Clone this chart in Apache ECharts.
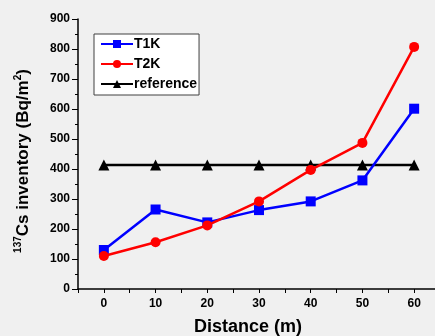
<!DOCTYPE html>
<html>
  <head>
    <meta charset="UTF-8" />
    <title>137Cs inventory</title>
    <style>
      * { padding: 0; margin: 0; }
      body { background: #f0f0f0; }
    </style>
    <script src="https://cdn.jsdelivr.net/npm/echarts@6/dist/echarts.min.js"></script>
  </head>
  <body>
    <div id="main" style="width: 435px; height: 336px;"></div>
    <script type="text/javascript">
      var distance = [0, 10, 20, 30, 40, 50, 60];
      var t1k = [130, 265, 222, 263, 292, 362, 601];
      var t2k = [110, 156, 212, 292, 397, 487, 807];
      var reference = [413, 413, 413, 413, 413, 413, 413];

      var font = 'Arial, "Liberation Sans", sans-serif';
      var pairs = function (vals) {
        return distance.map(function (d, i) { return [d, vals[i]]; });
      };

      var myChart = echarts.init(document.getElementById('main'));

      var option = {
        backgroundColor: '#f0f0f0',
        animation: false,
        textStyle: { fontFamily: font },
        grid: { left: 78, top: 19, bottom: 47, right: -5, outerBoundsMode: 'none', containLabel: false },
        legend: {
          orient: 'vertical',
          left: 94,
          top: 34,
          backgroundColor: '#ffffff',
          borderColor: '#404040',
          borderWidth: 1,
          padding: [3, 2, 4, 6],
          itemWidth: 32,
          itemHeight: 10,
          itemGap: 6,
          textStyle: { fontWeight: 'bold', fontSize: 14, color: '#000', padding: [0, 0, 0, -4] },
          data: ['T1K', 'T2K', 'reference']
        },
        xAxis: {
          type: 'value',
          min: -5,
          max: 65,
          interval: 5,
          name: 'Distance (m)',
          nameLocation: 'middle',
          nameGap: 29,
          nameTextStyle: { fontWeight: 'bold', fontSize: 18, color: '#000', padding: [0, 22, 0, 0] },
          axisLine: { onZero: false, lineStyle: { color: '#000', width: 1.5 } },
          axisTick: { inside: false, length: 4, lineStyle: { color: '#000' } },
          axisLabel: {
            fontWeight: 'bold', fontSize: 12, color: '#000', margin: 9,
            formatter: function (v) { return v % 10 === 0 && v >= 0 && v <= 60 ? String(v) : ''; }
          },
          splitLine: { show: false }
        },
        yAxis: {
          type: 'value',
          min: 0,
          max: 900,
          interval: 100,
          name: '{sup|137}{b|Cs inventory (Bq/m}{sup|2}{b|)}',
          nameLocation: 'middle',
          nameGap: 45,
          nameRotate: 90,
          nameTextStyle: {
            padding: [0, 14, 0, 0],
            rich: {
              b: { fontWeight: 'bold', fontSize: 17, color: '#000', fontFamily: font },
              sup: { fontWeight: 'bold', fontSize: 10, color: '#000', fontFamily: font, padding: [0, 0, 10, 0] }
            }
          },
          axisLine: { show: true, onZero: false, lineStyle: { color: '#000', width: 1.5 } },
          axisTick: { show: true, inside: false, length: 6, lineStyle: { color: '#000' } },
          minorTick: { show: true, splitNumber: 2, length: 3, lineStyle: { color: '#000' } },
          axisLabel: { fontWeight: 'bold', fontSize: 12, color: '#000', margin: 8 },
          splitLine: { show: false }
        },
        series: [
          {
            name: 'T1K',
            type: 'line',
            data: pairs(t1k),
            symbol: 'rect',
            symbolSize: 10,
            itemStyle: { color: '#0000ff' },
            lineStyle: { color: '#0000ff', width: 2.5 },
            z: 3
          },
          {
            name: 'T2K',
            type: 'line',
            data: pairs(t2k),
            symbol: 'circle',
            symbolSize: 10,
            itemStyle: { color: '#ff0000' },
            lineStyle: { color: '#ff0000', width: 2.5 },
            z: 4
          },
          {
            name: 'reference',
            type: 'line',
            data: pairs(reference),
            symbol: 'triangle',
            symbolSize: 11,
            itemStyle: { color: '#000000' },
            lineStyle: { color: '#000000', width: 2.5 },
            z: 2
          }
        ]
      };

      myChart.setOption(option, true);
    </script>
  </body>
</html>
